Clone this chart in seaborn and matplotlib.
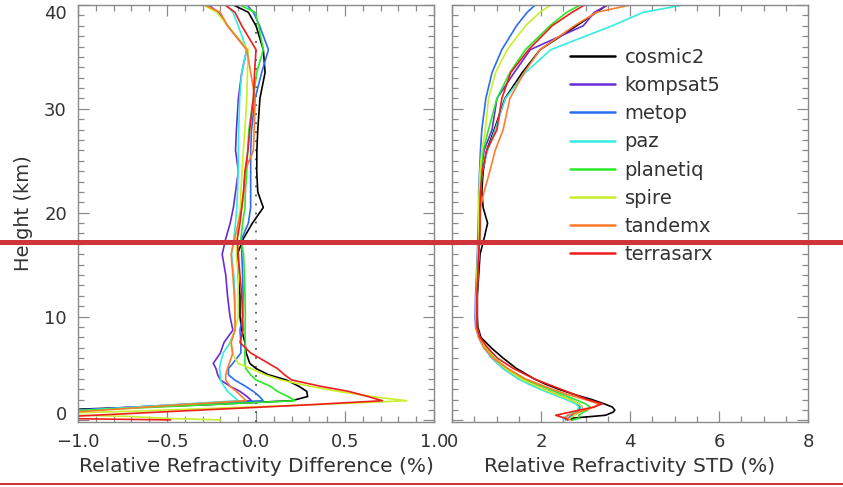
import numpy as np
import pandas as pd
import matplotlib
matplotlib.use("Agg")
import matplotlib.pyplot as plt
import seaborn as sns
from matplotlib.ticker import MultipleLocator, FixedLocator
from matplotlib.patches import Rectangle

MISSIONS = ["cosmic2", "kompsat5", "metop", "paz", "planetiq", "spire", "tandemx", "terrasarx"]
COLORS = ["#000000", "#6a2bd6", "#2a6cf2", "#35ece0", "#2ae82a", "#c8f02a", "#ff7b2c", "#f01c1c"]

# ---- left panel: relative refractivity difference (%) ----
H_DIFF = [0.05, 0.2, 0.4, 0.6, 0.9, 1.2, 1.5, 1.9, 2.3, 2.8, 3.3, 3.9, 4.4, 5.0, 5.5, 6.5, 7.5, 8.7,
          10, 12, 14, 16, 17.5, 19, 20.5, 22, 24, 26, 28, 31, 33.5, 35.7, 38, 39.3, 40]
DIFF_COSMIC2 = [-3, -3, -3, -2.5, -1.3, -0.8, -0.3, 0.2, 0.29, 0.285, 0.24, 0.17, 0.07, 0.0, -0.035, -0.055, -0.062, -0.08,
                -0.09, -0.09, -0.1, -0.105, -0.071, -0.02, 0.041, 0.01, 0.004, 0.005, 0.01, 0.022, 0.051, 0.041, 0.0, -0.043, -0.127]
DIFF_KOMPSAT5 = [-3, -3, -3, -1.4, -1.1, -0.78, -0.46, -0.025, -0.05, -0.09, -0.146, -0.2, -0.215, -0.225, -0.24, -0.2, -0.18, -0.13,
                 -0.146, -0.16, -0.17, -0.19, -0.17, -0.145, -0.127, -0.115, -0.099, -0.115, -0.11, -0.099, -0.08, -0.052, -0.16, -0.21, -0.268]
DIFF_METOP = [-3, -3, -3, -1.6, -1.11, -0.77, -0.43, 0.04, 0.02, -0.015, -0.06, -0.12, -0.155, -0.155, -0.13, -0.085, -0.085, -0.09,
              -0.075, -0.073, -0.075, -0.08, -0.08, -0.043, -0.03, -0.03, -0.03, -0.03, -0.025, -0.005, 0.032, 0.07, 0.02, -0.015, -0.05]
DIFF_PAZ = [-3, -3, -3, -1.35, -1.05, -0.76, -0.48, -0.1, -0.127, -0.16, -0.18, -0.2, -0.2, -0.205, -0.2, -0.184, -0.146, -0.118,
            -0.118, -0.118, -0.125, -0.137, -0.125, -0.115, -0.108, -0.104, -0.1, -0.099, -0.097, -0.092, -0.08, -0.052, -0.1, -0.13, -0.165]
DIFF_PLANETIQ = [-3, -3, -3, -1.4, -1.05, -0.67, -0.29, 0.22, 0.18, 0.12, 0.08, 0.0, -0.03, -0.058, -0.062, -0.062, -0.06, -0.062,
                 -0.06, -0.062, -0.065, -0.07, -0.085, -0.075, -0.062, -0.06, -0.052, -0.047, -0.04, -0.015, 0.004, 0.041, 0.015, -0.005, -0.09]
DIFF_SPIRE = [-0.2, -0.5, -0.73, -1.3, -0.67, -0.19, 0.29, 0.847, 0.65, 0.46, 0.3, 0.14, 0.05, -0.03, -0.1, -0.135, -0.14, -0.12,
              -0.1, -0.1, -0.1, -0.11, -0.105, -0.1, -0.088, -0.085, -0.078, -0.071, -0.062, -0.052, -0.048, -0.043, -0.16, -0.221, -0.296]
DIFF_TANDEMX = [-3, -3, -3, -1.2, -0.94, -0.69, -0.44, -0.055, -0.08, -0.11, -0.146, -0.17, -0.17, -0.16, -0.15, -0.13, -0.14, -0.118,
                -0.118, -0.122, -0.13, -0.14, -0.12, -0.1, -0.08, -0.07, -0.062, -0.015, -0.01, -0.005, -0.03, -0.052, -0.16, -0.202, -0.286]
DIFF_TERRASARX = [-0.48, -1.15, -1.03, -0.79, -0.43, -0.07, 0.29, 0.71, 0.63, 0.52, 0.36, 0.2, 0.16, 0.12, 0.07, -0.03, -0.09, -0.073,
                  -0.075, -0.08, -0.09, -0.1, -0.105, -0.09, -0.08, -0.07, -0.062, -0.045, -0.035, -0.015, -0.008, 0.0, -0.08, -0.118, -0.174]

# ---- right panel: relative refractivity STD (%) ----
H_STD = [0.05, 0.2, 0.5, 0.8, 1.0, 1.3, 1.6, 2.0, 2.5, 3.0, 3.5, 4.0, 5.0, 6.0, 7.0, 8.0, 9.0,
         10, 12, 14, 16, 17.5, 19, 20.5, 22, 24, 26, 28, 31, 33.5, 35.7, 38, 39.3, 40]
STD_COSMIC2 = [2.7, 2.65, 3.45, 3.62, 3.66, 3.6, 3.42, 3.15, 2.75, 2.4, 2.1, 1.85, 1.45, 1.15, 0.88, 0.65, 0.58,
               0.57, 0.57, 0.6, 0.63, 0.72, 0.8, 0.7, 0.67, 0.7, 0.78, 0.95, 1.19, 1.58, 1.98, 2.8, 3.25, 3.48]
STD_KOMPSAT5 = [2.6, 2.62, 2.72, 2.85, 2.9, 2.92, 2.85, 2.65, 2.35, 2.05, 1.8, 1.55, 1.2, 0.93, 0.75, 0.62, 0.55,
                0.55, 0.56, 0.58, 0.6, 0.62, 0.62, 0.62, 0.63, 0.66, 0.72, 0.9, 1.01, 1.4, 1.76, 2.95, 3.2, 3.5]
STD_METOP = [2.55, 2.6, 2.7, 2.8, 2.85, 2.88, 2.8, 2.6, 2.3, 2.0, 1.75, 1.5, 1.15, 0.9, 0.72, 0.6, 0.53,
             0.52, 0.53, 0.55, 0.57, 0.58, 0.59, 0.6, 0.6, 0.62, 0.64, 0.67, 0.76, 0.9, 1.12, 1.45, 1.69, 1.87]
STD_PAZ = [2.5, 2.5, 2.6, 2.75, 2.82, 2.85, 2.78, 2.58, 2.28, 1.98, 1.72, 1.5, 1.15, 0.9, 0.72, 0.6, 0.54,
           0.54, 0.55, 0.57, 0.6, 0.62, 0.62, 0.63, 0.64, 0.68, 0.8, 0.97, 1.2, 1.65, 2.22, 3.6, 4.3, 5.2]
STD_PLANETIQ = [2.7, 2.85, 2.85, 2.95, 3.05, 3.1, 3.0, 2.78, 2.48, 2.18, 1.9, 1.62, 1.25, 0.95, 0.76, 0.62, 0.55,
                0.55, 0.55, 0.57, 0.6, 0.62, 0.62, 0.62, 0.63, 0.65, 0.7, 0.82, 1.01, 1.3, 1.65, 2.2, 2.58, 2.88]
STD_SPIRE = [2.6, 2.65, 2.75, 2.85, 2.9, 2.92, 2.85, 2.65, 2.35, 2.05, 1.8, 1.55, 1.2, 0.93, 0.75, 0.62, 0.55,
             0.54, 0.55, 0.56, 0.58, 0.6, 0.6, 0.6, 0.61, 0.63, 0.67, 0.75, 0.82, 0.98, 1.24, 1.65, 1.98, 2.21]
STD_TANDEMX = [2.65, 2.55, 2.6, 2.85, 3.0, 3.2, 3.3, 3.0, 2.6, 2.25, 1.95, 1.65, 1.25, 0.92, 0.72, 0.6, 0.54,
               0.55, 0.56, 0.58, 0.6, 0.62, 0.63, 0.64, 0.72, 0.85, 0.97, 1.15, 1.3, 1.62, 1.98, 2.75, 3.25, 4.0]
STD_TERRASARX = [2.6, 2.55, 2.33, 2.65, 2.87, 3.19, 3.38, 3.05, 2.75, 2.45, 2.15, 1.85, 1.38, 1.02, 0.8, 0.63, 0.56,
                 0.56, 0.56, 0.58, 0.6, 0.62, 0.63, 0.63, 0.64, 0.68, 0.78, 1.01, 1.12, 1.32, 1.72, 2.25, 2.7, 2.98]

DIFF = [DIFF_COSMIC2, DIFF_KOMPSAT5, DIFF_METOP, DIFF_PAZ, DIFF_PLANETIQ, DIFF_SPIRE, DIFF_TANDEMX, DIFF_TERRASARX]
STD = [STD_COSMIC2, STD_KOMPSAT5, STD_METOP, STD_PAZ, STD_PLANETIQ, STD_SPIRE, STD_TANDEMX, STD_TERRASARX]

X_TICKS_DIFF = [-1.0, -0.5, 0.0, 0.5, 1.0]
X_TICKS_STD = [0, 2, 4, 6, 8]
Y_TICKS = [0, 10, 20, 30, 40]


def long_frame(heights, series):
    rows = []
    for name, vals in zip(MISSIONS, series):
        for h, v in zip(heights, vals):
            rows.append({"mission": name, "height": h, "value": v})
    return pd.DataFrame(rows)


df_diff = long_frame(H_DIFF, DIFF)
df_std = long_frame(H_STD, STD)

sns.set_theme(style="white")
plt.rcParams["font.family"] = ["DejaVu Sans"]
TXT = "#333333"
GRAY = "#8a8a8a"

fig = plt.figure(figsize=(8.43, 4.87), dpi=100)
W, H = 843.0, 487.0
ax_b = (H - 421.7) / H
ax_h = (421.7 - 5.0) / H
ax1 = fig.add_axes([78 / W, ax_b, 356 / W, ax_h])
ax2 = fig.add_axes([452 / W, ax_b, 356 / W, ax_h])

pal = dict(zip(MISSIONS, COLORS))
sns.lineplot(data=df_diff, x="value", y="height", hue="mission", hue_order=MISSIONS, palette=pal,
             sort=False, estimator=None, units="mission", lw=1.2, legend=False, ax=ax1)
sns.lineplot(data=df_std, x="value", y="height", hue="mission", hue_order=MISSIONS, palette=pal,
             sort=False, estimator=None, units="mission", lw=1.2, legend=True, ax=ax2)

ax1.axvline(0, color="#555555", lw=1.3, linestyle=(0, (1, 4)), zorder=1)

for ax in (ax1, ax2):
    ax.set_ylim(-0.12, 40.0)
    ax.yaxis.set_major_locator(FixedLocator(Y_TICKS))
    ax.yaxis.set_minor_locator(MultipleLocator(1))
    ax.tick_params(which="both", direction="in", top=True, right=True, bottom=True, left=True,
                   color=GRAY, width=0.9, labelcolor=TXT, labelsize=13)
    ax.tick_params(which="major", length=8)
    ax.tick_params(which="minor", length=4)
    ax.tick_params(axis="x", pad=8)
    ax.tick_params(axis="y", pad=8)
    for s in ax.spines.values():
        s.set_color(GRAY)
        s.set_linewidth(1.0)
    ax.set_facecolor("white")

ax1.set_xlim(-1.0, 1.0)
ax1.xaxis.set_major_locator(FixedLocator(X_TICKS_DIFF))
ax1.xaxis.set_minor_locator(MultipleLocator(0.1))
ax1.set_xticklabels([f"{t:.1f}".replace("-", "\u2212") for t in X_TICKS_DIFF])
ax1.set_yticks(Y_TICKS)
ax1.set_yticklabels([str(t) for t in Y_TICKS])
ax1.set_xlabel("Relative Refractivity Difference (%)", fontsize=14.5, color=TXT)
ax1.set_ylabel("Height (km)", fontsize=14, color=TXT)
ax1.xaxis.set_label_coords(0.5, -0.085)
ax1.yaxis.set_label_coords(-0.126, 0.5)
yt = ax1.yaxis.get_major_ticks()
yt[-1].label1.set_va("top")
yt[0].label1.set_va("baseline")

ax2.set_xlim(0, 8)
ax2.xaxis.set_major_locator(FixedLocator(X_TICKS_STD))
ax2.xaxis.set_minor_locator(MultipleLocator(0.5))
ax2.set_xticklabels([str(t) for t in X_TICKS_STD])
ax2.set_yticklabels([])
ax2.set_ylabel("")
ax2.set_xlabel("Relative Refractivity STD (%)", fontsize=14.5, color=TXT)
ax2.xaxis.set_label_coords(0.5, -0.085)

handles, labels = ax2.get_legend_handles_labels()
for hd in handles:
    hd.set_linewidth(1.8)
leg = ax2.legend(handles, labels, loc="upper left", bbox_to_anchor=((570 - 452) / 356, (421.7 - 48) / 416.7),
                 frameon=False, fontsize=14, handlelength=2.3, handletextpad=0.5, labelspacing=0.47,
                 borderpad=0, borderaxespad=0)
for t in leg.get_texts():
    t.set_color(TXT)

# red highlight marks across the figure
fig.add_artist(Rectangle((0, (H - 245) / H), 1, 5 / H, transform=fig.transFigure,
                         facecolor="#d0343a", edgecolor="none", zorder=20))
fig.add_artist(Rectangle((0, (H - 485) / H), 1, 2.5 / H, transform=fig.transFigure,
                         facecolor="#d0343a", edgecolor="none", zorder=20))

fig.savefig("out.png", dpi=100, facecolor="white")
